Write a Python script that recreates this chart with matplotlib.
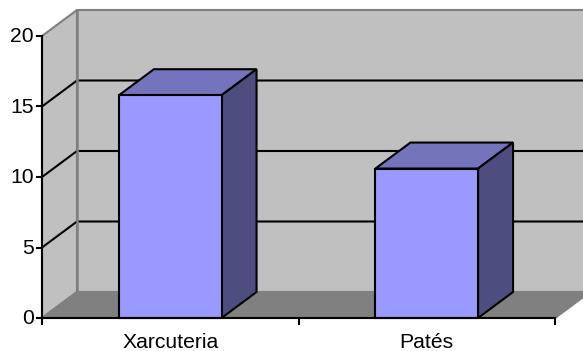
import matplotlib
matplotlib.use("Agg")
import matplotlib.pyplot as plt
from matplotlib.patches import Polygon

categories = ["Xarcuteria", "Patés"]
values = [15.8, 10.6]
y_ticks = [0, 5, 10, 15, 20]

W, H = 583, 351
L, R, B, T = 42, 555, 318, 36
plt.rcParams['font.family'] = ['Liberation Sans', 'DejaVu Sans']
fig = plt.figure(figsize=(W/100, H/100), dpi=100, facecolor='white')
ax = fig.add_axes([L/W, 1-B/H, (R-L)/W, (B-T)/H])
ax.set_xlim(0, len(categories))
ax.set_ylim(0, 20)
ax.axis('off')

dx = 35/(R-L)*len(categories)
dy = 26/(B-T)*20
n = len(categories)
lw = 1.5
gray = '#808080'

def poly(pts, fc, z, ec='black'):
    ax.add_patch(Polygon(pts, closed=True, fc=fc, ec=ec, lw=lw, zorder=z,
                         clip_on=False, joinstyle='miter'))

# walls and floor
poly([(0, 0), (dx, dy), (dx, 20+dy), (0, 20)], '#c0c0c0', 1, gray)
poly([(dx, dy), (n+dx, dy), (n+dx, 20+dy), (dx, 20+dy)], '#c0c0c0', 1, gray)
poly([(0, 0), (n, 0), (n+dx, dy), (dx, dy)], gray, 1, gray)

# gridlines: the lowest and highest ones stay grey like the wall edges
for t in y_ticks[1:-1]:
    ax.plot([0, dx, n+dx], [t, t+dy, t+dy], color='black', lw=lw, zorder=2,
            clip_on=False, solid_joinstyle='miter')
ax.plot([dx, dx], [0+dy, 20+dy], color=gray, lw=lw+0.3, zorder=3, clip_on=False)

# axes and ticks
ax.plot([0, 0], [0, 20], color='black', lw=lw, zorder=6, clip_on=False)
ax.plot([0, n], [0, 0], color='black', lw=lw, zorder=6, clip_on=False)
tx = 5/(R-L)*n
ty = 6/(B-T)*20
for t in y_ticks:
    ax.plot([-tx, 0], [t, t], color='black', lw=lw, zorder=6, clip_on=False)
    ax.text(-tx-0.012, t-0.05, str(t), ha='right', va='center', fontsize=15.2, color='black')
for i in range(n+1):
    ax.plot([i, i], [0, -ty], color='black', lw=lw, zorder=6, clip_on=False)

# bars
w = 0.4
for i, (c, v) in enumerate(zip(categories, values)):
    x0, x1 = i+0.5-w/2, i+0.5+w/2
    poly([(x0, v), (x1, v), (x1+dx, v+dy), (x0+dx, v+dy)], '#7474bd', 4)
    poly([(x1, 0), (x1+dx, dy), (x1+dx, v+dy), (x1, v)], '#4d4d80', 4)
    poly([(x0, 0), (x1, 0), (x1, v), (x0, v)], '#9999ff', 5)
    ax.text(i+0.5, -1.75, c, ha='center', va='center', fontsize=15.2, color='black')

fig.savefig('out.png', dpi=100, facecolor='white')
